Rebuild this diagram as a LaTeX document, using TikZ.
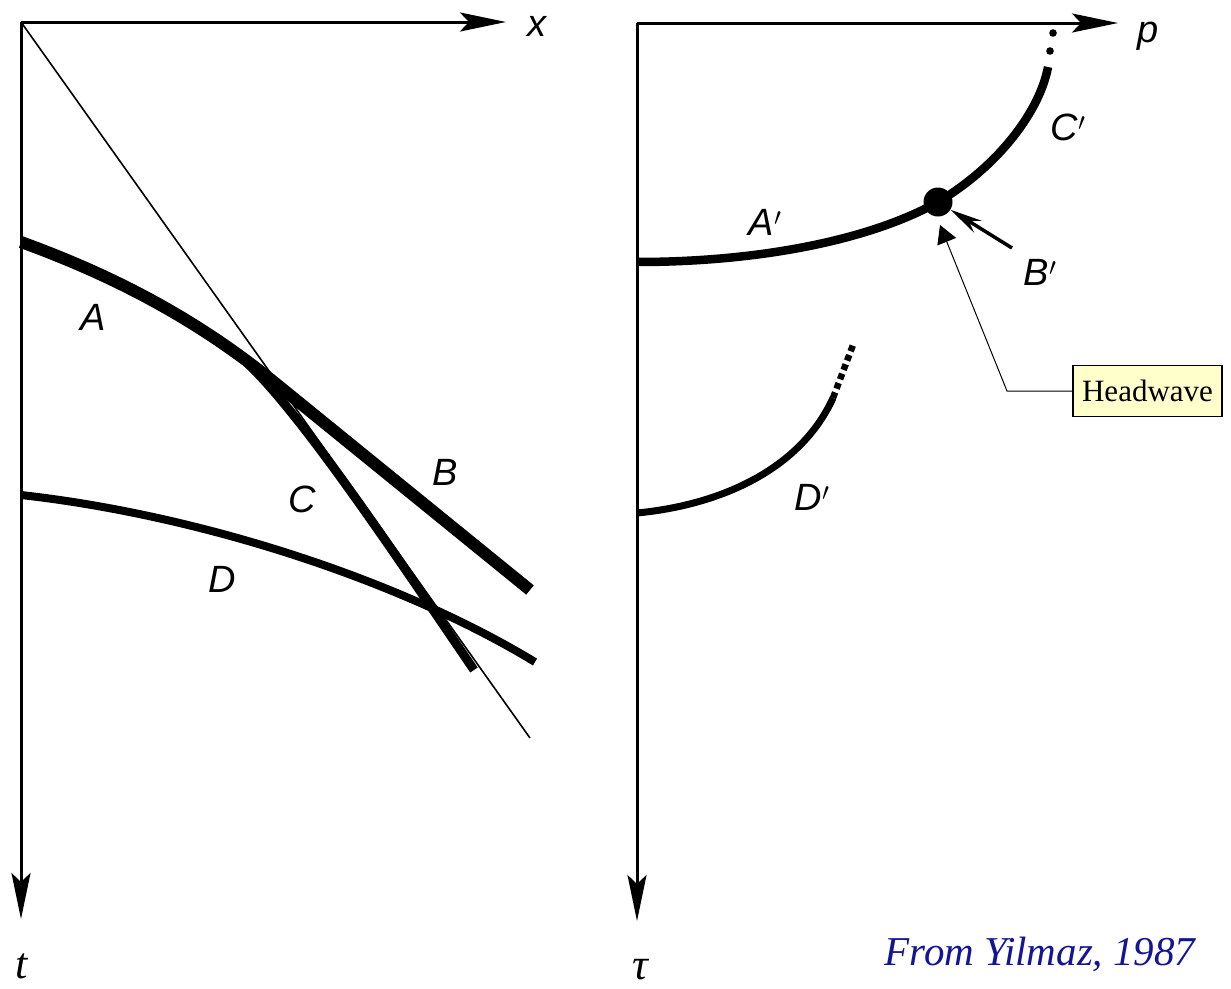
\documentclass[tikz,border=0pt]{standalone}
\usepackage{fontspec}
\setmainfont{Liberation Serif}
\newfontfamily\lsans{Liberation Sans}
\usetikzlibrary{arrows.meta}
\definecolor{hwfill}{RGB}{255,255,204}
\definecolor{citeblue}{RGB}{20,20,150}
\begin{document}
\begin{tikzpicture}[x=1pt,y=-1pt,
  axis/.style={line width=3pt,-{Stealth[length=46pt,width=19pt,inset=9pt]}},
  thin/.style={line width=1.6pt},
  heavy/.style={line width=12pt},
  medium/.style={line width=9pt},
  curveD/.style={line width=8pt},
  lbl/.style={font=\lsans\itshape\fontsize{38}{40}\selectfont,inner sep=0pt,anchor=base},
  serlbl/.style={font=\itshape\fontsize{44}{46}\selectfont,inner sep=0pt,anchor=base},
  hwbox/.style={draw,fill=hwfill,line width=1.2pt,minimum width=149pt,minimum height=51pt,inner sep=0pt,font=\fontsize{31}{33}\selectfont},
  pointer/.style={line width=1pt,-{Triangle[length=18pt,width=20pt]}},
  barrow/.style={line width=3.5pt,-{Stealth[length=32pt,width=14pt]}}
]
\useasboundingbox (0,0) rectangle (1231,988);
% ---------- left panel ----------
\coordinate (O1) at (21,22);
\coordinate (Xend) at (506,22);
\coordinate (Tend) at (21,919);
\draw[axis] (O1) -- (Xend);
\draw[axis] (O1) -- (Tend);
\node[lbl] (xl) at (537,36) {x};
\node[serlbl] (tl) at (22,978) {t};
% asymptote
\coordinate (asy) at (530,738);
\draw[thin] (O1) -- (asy);
% A and B
\coordinate (A0) at (21,242);
\coordinate (Bk) at (274,382);
\coordinate (B1) at (530,590);
\draw[heavy] (A0) .. controls (120,278) and (200,322) .. (Bk) -- (B1);
% C
\coordinate (C0) at (228,347);
\coordinate (C1) at (474,670);
\draw[medium] (C0) .. controls (280,382) and (382,535) .. (C1);
% D
\coordinate (D0) at (21,495);
\coordinate (D1) at (535,662);
\draw[curveD] (D0) .. controls (200,515) and (400,580) .. (D1);
\node[lbl] (la) at (93,330) {A};
\node[lbl] (lb) at (445,485) {B};
\node[lbl] (lc) at (302,512) {C};
\node[lbl] (ld) at (222,592) {D};
% ---------- right panel ----------
\coordinate (O2) at (637,23);
\coordinate (Pend) at (1118,23);
\coordinate (Tauend) at (637,921);
\draw[axis] (O2) -- (Pend);
\draw[axis] (O2) -- (Tauend);
\node[lbl] (pl) at (1148,42) {p};
\node[serlbl] (taul) at (640,979) {τ};
% A' C'
\node[circle,fill,minimum size=29pt,inner sep=0pt] (ball) at (938,202) {};
\coordinate (Ap0) at (637,262);
\coordinate (Cp1) at (1048,67);
\draw[line width=8.5pt] (Ap0) .. controls (760,262) and (870,240) .. (ball.center)
   .. controls (1000,165) and (1040,110) .. (Cp1);
\fill (1050,51) circle (3.8pt);
\fill (1053,33) circle (3.8pt);
% D'
\coordinate (Dp0) at (637,513);
\coordinate (Dp1) at (833,398);
\coordinate (Dp2) at (853,345);
\draw[line width=7pt] (Dp0) .. controls (720,505) and (800,470) .. (Dp1);
\draw[line width=6.5pt,dash pattern=on 6pt off 4pt] (Dp1) -- (Dp2);
% labels
\node[lbl] (lap) at (765,235) {A$'$};
\node[lbl] (lcp) at (1068,140) {C$'$};
\node[lbl] (lbp) at (1040,285) {B$'$};
\node[lbl] (ldp) at (812,510) {D$'$};
% B' arrow
\coordinate (Bp) at (1012,248);
\draw[barrow] (Bp) -- (ball);
% Headwave callout
\node[hwbox] (hw) at (1147.5,391) {Headwave};
\coordinate (hk) at (1007,391);
\coordinate (hwtip) at (940,225);
\draw[pointer] (hw.west) -- (hk) -- (hwtip);
% citation
\node[font=\itshape\fontsize{41}{43}\selectfont,text=citeblue,inner sep=0pt,anchor=base] (cite) at (1040,965) {From Yilmaz, 1987};
\end{tikzpicture}
\end{document}
